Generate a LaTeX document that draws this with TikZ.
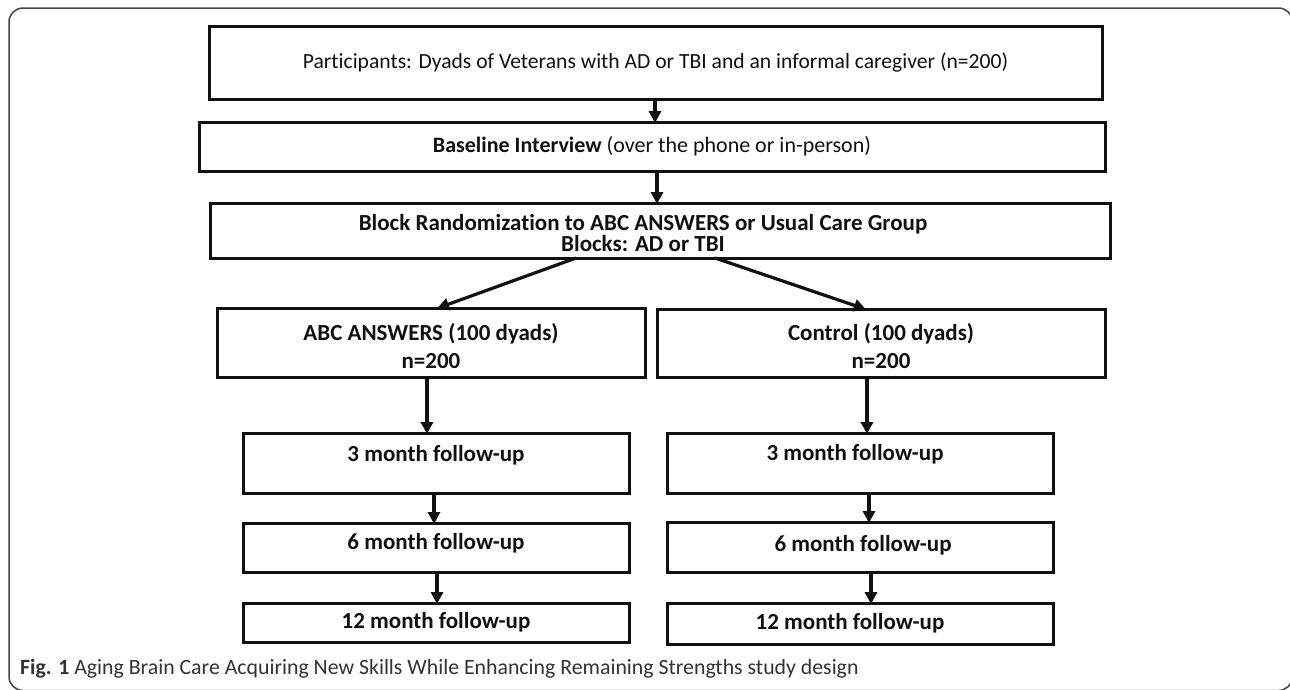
\documentclass[tikz,border=0pt]{standalone}
\usepackage{fontspec}
\setmainfont{Carlito}[Ligatures=NoCommon]
\usetikzlibrary{arrows.meta}
\definecolor{ink}{HTML}{111111}
\definecolor{framec}{HTML}{444444}
\definecolor{capc}{HTML}{333333}
\tikzset{
  box/.style={draw=ink, line width=3pt, rectangle, inner sep=0pt, outer sep=0pt,
    align=center, text=ink, font=\fontsize{23}{27}\selectfont\bfseries},
  arr/.style={draw=ink, line width=3.2pt, -{Triangle[length=12pt,width=12pt]}, shorten >=-1pt},
  lbl/.style={text=ink, font=\fontsize{23}{27}\selectfont\bfseries, inner sep=0pt, align=center}
}
\begin{document}
\begin{tikzpicture}[x=1pt,y=-1pt]
\useasboundingbox (0,0) rectangle (1290,689);
\fill[white] (0,0) rectangle (1290,689);
% outer frame (partly outside the page)
\draw[framec, line width=1.5pt, rounded corners=14pt] (9,8) rectangle (1292.5,690.5);

\node[box, minimum width=893, minimum height=73, font=\fontsize{21.6}{25}\selectfont] (b1) at (655.5,62.5)
  {Participants: Dyads of Veterans with AD or TBI and an informal caregiver (n=200)};
\node[box, minimum width=906, minimum height=49, font=\fontsize{22}{25}\selectfont] (b2) at (652,146.5)
  {\textbf{Baseline Interview} (over the phone or in-person)};
\node[box, minimum width=900, minimum height=55,
  label={[lbl, name=b3t, xshift=-17pt, yshift=-2.5pt, font=\fontsize{23}{21.5}\selectfont\bfseries]center:{Block Randomization to ABC ANSWERS or Usual Care Group\\Blocks: AD or TBI}}] (b3) at (660,230.5) {};
\node[box, minimum width=428, minimum height=69,
  label={[lbl, name=abct, yshift=-3.5pt, font=\fontsize{23}{28}\selectfont\bfseries]center:{ABC ANSWERS (100 dyads)\\n=200}}] (abc) at (431,342.5) {};
\node[box, minimum width=448, minimum height=68,
  label={[lbl, name=ctlt, yshift=-3.5pt, font=\fontsize{23}{28}\selectfont\bfseries]center:{Control (100 dyads)\\n=200}}] (ctl) at (881,343) {};

\node[box, minimum width=386, minimum height=60,
  label={[lbl, name=l3t, yshift=8pt]center:{3 month follow-up}}] (l3) at (436,463) {};
\node[box, minimum width=386, minimum height=49,
  label={[lbl, name=l6t, yshift=4pt]center:{6 month follow-up}}] (l6) at (436,547.5) {};
\node[box, minimum width=386, minimum height=39] (l12) at (436,622.5) {12 month follow-up};

\node[box, minimum width=386, minimum height=60,
  label={[lbl, name=r3t, yshift=9pt, xshift=-5pt]center:{3 month follow-up}}] (r3) at (860,463) {};
\node[box, minimum width=386, minimum height=50,
  label={[lbl, name=r6t, yshift=2pt, xshift=3pt]center:{6 month follow-up}}] (r6) at (860,547) {};
\node[box, minimum width=386, minimum height=41,
  label={[lbl, name=r12t, xshift=-10pt]center:{12 month follow-up}}] (r12) at (860,623.5) {};

% connectors
\draw[arr] ([xshift=-0.5pt]b1.south) -- ([xshift=3pt]b2.north);
\draw[arr] ([xshift=5pt]b2.south) -- ([xshift=-3pt]b3.north);
\draw[arr] ([xshift=-84pt]b3.south) -- ([xshift=7pt]abc.north);
\draw[arr] ([xshift=55pt]b3.south) -- ([xshift=-16pt]ctl.north);
\draw[arr] ([xshift=-4pt]abc.south) -- ([xshift=-9pt]l3.north);
\draw[arr] ([xshift=-2pt]l3.south) -- ([xshift=-2pt]l6.north);
\draw[arr] ([xshift=1pt]l6.south) -- ([xshift=1pt]l12.north);
\draw[arr] ([xshift=-14pt]ctl.south) -- ([xshift=7pt]r3.north);
\draw[arr] ([xshift=9pt]r3.south) -- ([xshift=9pt]r6.north);
\draw[arr] ([xshift=11pt]r6.south) -- ([xshift=11pt]r12.north);

% caption
\node[anchor=west, inner sep=0pt, text=capc, font=\fontsize{21.8}{24}\selectfont] (cap) at (20,669)
  {\textbf{Fig. 1} Aging Brain Care Acquiring New Skills While Enhancing Remaining Strengths study design};
\end{tikzpicture}
\end{document}
